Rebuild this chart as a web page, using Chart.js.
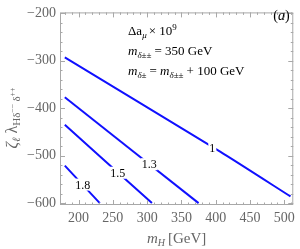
<!DOCTYPE html>
<html><head><meta charset="utf-8">
<script src="https://cdn.jsdelivr.net/npm/chart.js@4.4.1/dist/chart.umd.min.js"></script>
<style>html,body{margin:0;padding:0;background:#fff}#wrap{width:300px;height:249px}</style>
</head><body><div id="wrap"><canvas id="c" width="300" height="249"></canvas></div>
<script>
// ---- data ----
const xTicks = [200, 250, 300, 350, 400, 450, 500];
const yTicks = [-600, -500, -400, -300, -200];
const contourNames = ['1', '1.3', '1.5', '1.8'];
const line1X = [180, 407, 509];
const line1Y = [-293, -492, -586];
const line13X = [180, 375];
const line13Y = [-377, -600];
const line15X = [180, 307];
const line15Y = [-435, -600];
const line18X = [180, 231];
const line18Y = [-521, -600];
const labelX = [395, 303, 257, 206];
const labelY = [-484, -518, -536, -561];

const SERIF = '"Liberation Serif", "DejaVu Serif", serif';
const pts = (xs, ys) => xs.map((x, i) => ({x: x, y: ys[i]}));
const lineSets = [[line1X, line1Y], [line13X, line13Y], [line15X, line15Y], [line18X, line18Y]];

function drawRich(ctx, x, y, parts, align) {
  let w = 0;
  parts.forEach(p => { ctx.font = (p.it ? 'italic ' : '') + p.s + 'px ' + SERIF; p.w = ctx.measureText(p.t).width; w += p.w + (p.gap || 0); });
  let cx = align === 'center' ? x - w / 2 : x;
  parts.forEach(p => {
    ctx.font = (p.it ? 'italic ' : '') + p.s + 'px ' + SERIF;
    ctx.fillText(p.t, cx, y + (p.dy || 0));
    cx += p.w + (p.gap || 0);
  });
}

const framePlugin = {
  id: 'frame',
  afterDatasetsDraw(chart) {
    const ctx = chart.ctx, xs = chart.scales.x, ys = chart.scales.y;
    ctx.save();
    ctx.font = '12px ' + SERIF;
    ctx.textBaseline = 'middle';
    ctx.textAlign = 'center';
    contourNames.forEach((t, i) => {
      const px = xs.getPixelForValue(labelX[i]), py = ys.getPixelForValue(labelY[i]);
      const w = ctx.measureText(t).width;
      ctx.fillStyle = '#fff';
      ctx.fillRect(px - w / 2 - 1, py - 6, w + 2, 12);
      ctx.fillStyle = '#000';
      ctx.fillText(t, px, py + 1);
    });
    ctx.restore();
  },
  afterDraw(chart) {
    const ctx = chart.ctx, a = chart.chartArea, xs = chart.scales.x, ys = chart.scales.y;
    ctx.save();
    ctx.strokeStyle = '#a8a8a8';
    ctx.lineWidth = 1;
    ctx.strokeRect(a.left + 0.5, a.top + 0.5, a.right - a.left - 1, a.bottom - a.top - 1);
    ctx.beginPath();
    const xMinorStep = 10, yMinorStep = 20;
    for (let v = xTicks[0] - 30; v <= xTicks[xTicks.length - 1] + 10; v += xMinorStep) {
      const p = Math.round(xs.getPixelForValue(v)) + 0.5;
      if (p < a.left || p > a.right) continue;
      const L = xTicks.includes(v) ? 5 : 2.5;
      ctx.moveTo(p, a.bottom); ctx.lineTo(p, a.bottom - L);
      ctx.moveTo(p, a.top); ctx.lineTo(p, a.top + L);
    }
    for (let v = yTicks[0] - 20; v <= yTicks[yTicks.length - 1]; v += yMinorStep) {
      const p = Math.round(ys.getPixelForValue(v)) + 0.5;
      if (p < a.top || p > a.bottom) continue;
      const L = yTicks.includes(v) ? 5 : 2.5;
      ctx.moveTo(a.left, p); ctx.lineTo(a.left + L, p);
      ctx.moveTo(a.right, p); ctx.lineTo(a.right - L, p);
    }
    ctx.stroke();

    ctx.fillStyle = '#000';
    ctx.textBaseline = 'alphabetic';
    ctx.textAlign = 'left';
    const tx = 128;
    drawRich(ctx, tx, 35, [{t: 'Δa', s: 13}, {t: 'μ', s: 9, it: true, dy: 3, gap: 2}, {t: '× 10', s: 13}, {t: '9', s: 9, dy: -5}]);
    drawRich(ctx, tx, 55, [{t: 'm', s: 13, it: true}, {t: 'δ±±', s: 9, it: true, dy: 3, gap: 3}, {t: '= 350 GeV', s: 13}]);
    drawRich(ctx, tx, 75, [{t: 'm', s: 13, it: true}, {t: 'δ±', s: 9, it: true, dy: 3, gap: 3}, {t: '= ', s: 13}, {t: 'm', s: 13, it: true}, {t: 'δ±±', s: 9, it: true, dy: 3, gap: 3}, {t: '+ 100 GeV', s: 13}]);
    drawRich(ctx, a.right - 20, 20, [{t: '(', s: 14}, {t: 'a', s: 14, it: true}, {t: ')', s: 14}]);

    ctx.fillStyle = '#666';
    const xc = (a.left + a.right) / 2;
    drawRich(ctx, xc, 243, [{t: 'm', s: 15, it: true}, {t: 'H', s: 10, it: true, dy: 3, gap: 3}, {t: '[GeV]', s: 15}], 'center');
    ctx.save();
    ctx.translate(17, 118);
    ctx.rotate(-Math.PI / 2);
    drawRich(ctx, 0, 0, [{t: 'ζ', s: 16, it: true}, {t: 'ℓ', s: 11, it: true, dy: 3, gap: 4}, {t: 'λ', s: 16}, {t: 'Hδ', s: 11, dy: 3}, {t: '−−', s: 8, dy: -2, gap: 2}, {t: 'δ', s: 11, dy: 3}, {t: '++', s: 8, dy: -2}], 'center');
    ctx.restore();
    ctx.restore();
  }
};

new Chart(document.getElementById('c'), {
  type: 'scatter',
  data: {
    datasets: lineSets.map(s => ({
      data: pts(s[0], s[1]),
      showLine: true,
      borderColor: '#1010ff',
      borderWidth: 2,
      pointRadius: 0,
      fill: false,
      tension: 0.2
    }))
  },
  options: {
    responsive: false,
    animation: false,
    events: [],
    layout: {padding: {left: 0, right: 4, top: 5, bottom: 0}},
    plugins: {legend: {display: false}, tooltip: {enabled: false}},
    scales: {
      x: {
        type: 'linear', min: 173, max: 513,
        grid: {display: false, drawTicks: false},
        border: {display: false},
        afterBuildTicks: s => { s.ticks = xTicks.map(v => ({value: v})); },
        afterFit: s => { s.height = 44; },
        ticks: {padding: 5, color: '#666', font: {family: SERIF, size: 14}, maxRotation: 0, autoSkip: false,
          callback: v => String(v)}
      },
      y: {
        type: 'linear', min: -604, max: -198,
        grid: {display: false, drawTicks: false},
        border: {display: false},
        afterBuildTicks: s => { s.ticks = yTicks.map(v => ({value: v})); },
        afterFit: s => { s.width = 60; },
        ticks: {padding: 4, color: '#666', font: {family: SERIF, size: 14}, autoSkip: false,
          callback: v => (v < 0 ? '−' + Math.abs(v) : String(v))}
      }
    }
  },
  plugins: [framePlugin]
});
</script>
</body></html>
